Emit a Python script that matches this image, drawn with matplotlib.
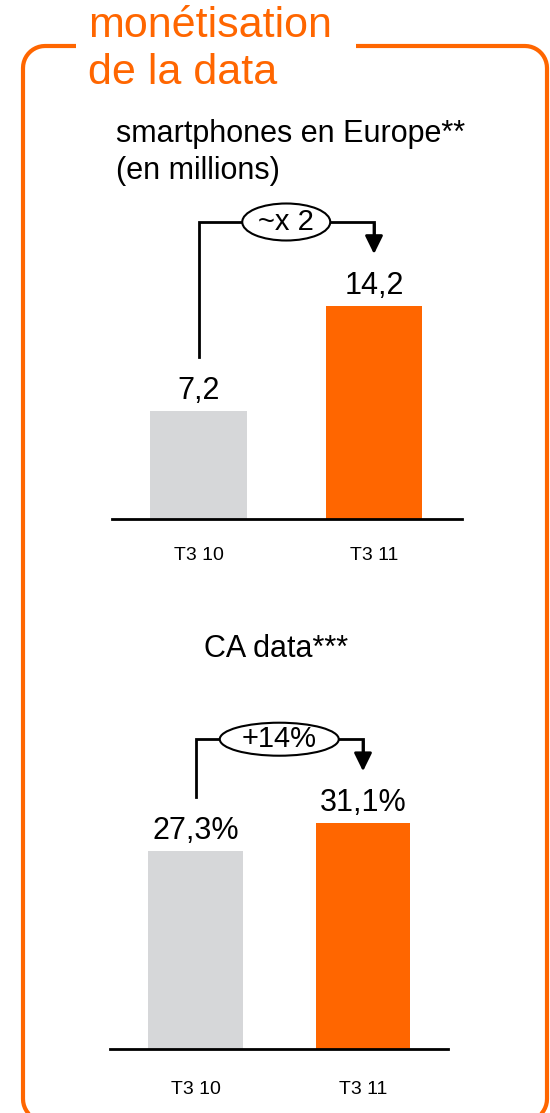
"""Two small before/after bar panels on data monetisation, inside an orange frame."""

from __future__ import annotations

import matplotlib

matplotlib.use("Agg")

import matplotlib.pyplot as plt
import numpy as np
from matplotlib.lines import Line2D
from matplotlib.patches import Ellipse

plt.rcParams["font.family"] = ["Liberation Sans", "DejaVu Sans"]

QUARTERS = ["T3 10", "T3 11"]
SMARTPHONES_MILLIONS = [7.2, 14.2]
SMARTPHONES_GROWTH = "~x 2"
DATA_REVENUE_SHARE = [27.3, 31.1]
DATA_REVENUE_GROWTH = "+14%"

TITLE_LINES = ["monétisation", "de la data"]
SMARTPHONES_TITLE = ["smartphones en Europe**", "(en millions)"]
DATA_REVENUE_TITLE = "CA data***"

ORANGE = "#FF6600"
GREY = "#D6D7D9"
FIG_W, FIG_H = 550, 1113


def fig_xy(x: float, y: float) -> tuple[float, float]:
    """Convert a pixel position (origin top-left) into figure fractions."""
    return x / FIG_W, 1.0 - y / FIG_H


def corner(cx, cy, r, a0, a1, n=12):
    """Quarter-circle points around (cx, cy) in pixel space (y down)."""
    t = np.radians(np.linspace(a0, a1, n))
    return list(zip(cx + r * np.cos(t), cy - r * np.sin(t)))


def draw_frame(fig) -> None:
    """Rounded orange frame with a gap in the top edge for the title."""
    left, right, top, bottom, r = 23, 547, 46, 1121, 22
    gap_left, gap_right = 76, 356
    pts = [(gap_left, top)]
    pts += corner(left + r, top + r, r, 90, 180)
    pts += corner(left + r, bottom - r, r, 180, 270)
    pts += corner(right - r, bottom - r, r, 270, 360)
    pts += corner(right - r, top + r, r, 0, 90)
    pts.append((gap_right, top))
    xs, ys = zip(*(fig_xy(x, y) for x, y in pts))
    fig.add_artist(Line2D(xs, ys, transform=fig.transFigure, color=ORANGE,
                          linewidth=3.0, solid_capstyle="butt", clip_on=False))


def bar_axes(fig, left, right, bottom, top, centers, px_per_unit):
    """Axes whose bar slots 0 and 1 land at the given pixel centres."""
    x0, y0 = fig_xy(left, bottom)
    ax = fig.add_axes([x0, y0, (right - left) / FIG_W, (bottom - top) / FIG_H])
    unit_px = centers[1] - centers[0]
    ax.set_xlim((left - centers[0]) / unit_px, (right - centers[0]) / unit_px)
    ax.set_ylim(0, (bottom - top) / px_per_unit)
    for side in ("top", "left", "right"):
        ax.spines[side].set_visible(False)
    ax.spines["bottom"].set_linewidth(2.0)
    ax.set_yticks([])
    ax.patch.set_alpha(0.0)
    return ax, unit_px


def plot_bars(ax, values, width, label_fmt, tick_pad):
    ax.bar([0, 1], values, width=width, color=[GREY, ORANGE], zorder=2)
    for i, v in enumerate(values):
        ax.annotate(label_fmt(v), (i, v), xytext=(0, 8.5),
                    textcoords="offset points", ha="center", va="baseline",
                    fontsize=22)
    ax.set_xticks([0, 1], QUARTERS)
    ax.tick_params(axis="x", length=0, pad=tick_pad, labelsize=14)


def draw_growth_bracket(ax, values, text, unit_px, px_per_unit, ell_w, ell_h):
    """Bracket from the first bar label to an arrow over the second bar."""
    start_y = values[0] + 54 / px_per_unit
    top_y = values[1] + 84 / px_per_unit
    tip_y = values[1] + 52 / px_per_unit
    half_w = ell_w / 2 / unit_px
    line_kw = dict(color="black", linewidth=2.0, clip_on=False,
                   solid_joinstyle="miter", zorder=2)
    ax.plot([0, 0, 0.5 - half_w], [start_y, top_y, top_y], **line_kw)
    ax.plot([0.5 + half_w, 1, 1], [top_y, top_y, tip_y + 10 / px_per_unit], **line_kw)
    ax.annotate("", xy=(1, tip_y), xytext=(1, top_y - 2 / px_per_unit),
                arrowprops=dict(arrowstyle="-|>,head_length=0.55,head_width=0.27",
                                color="black", lw=2.0, mutation_scale=20,
                                shrinkA=0, shrinkB=0), annotation_clip=False)
    ax.add_patch(Ellipse((0.5, top_y), width=ell_w / unit_px,
                         height=ell_h / px_per_unit, facecolor="white",
                         edgecolor="black", linewidth=1.5, zorder=3, clip_on=False))
    ax.text(0.5, top_y, text, ha="center", va="center", fontsize=21, zorder=4)


def main() -> None:
    fig = plt.figure(figsize=(FIG_W / 100, FIG_H / 100), dpi=100)
    draw_frame(fig)

    for text, baseline in zip(TITLE_LINES, (37, 84)):
        fig.text(*fig_xy(88, baseline), text, color=ORANGE, fontsize=31,
                 ha="left", va="baseline")
    for text, baseline in zip(SMARTPHONES_TITLE, (142, 179)):
        fig.text(*fig_xy(116, baseline), text, fontsize=22, ha="left", va="baseline")
    fig.text(*fig_xy(276, 657), DATA_REVENUE_TITLE, fontsize=22,
             ha="center", va="baseline")

    # smartphones: 15 px per million
    ax1, unit1 = bar_axes(fig, 112, 462, 519, 180, (198.5, 374), 15.0)
    plot_bars(ax1, SMARTPHONES_MILLIONS, 96.5 / unit1,
              lambda v: f"{v:.1f}".replace(".", ","), tick_pad=20)
    draw_growth_bracket(ax1, SMARTPHONES_MILLIONS, SMARTPHONES_GROWTH,
                        unit1, 15.0, 88, 37)

    # data revenue share: ~7.26 px per point
    ax2, unit2 = bar_axes(fig, 110, 448, 1049, 690, (195.5, 363), 7.26)
    plot_bars(ax2, DATA_REVENUE_SHARE, 94.5 / unit2,
              lambda v: f"{v:.1f}%".replace(".", ","), tick_pad=23)
    draw_growth_bracket(ax2, DATA_REVENUE_SHARE, DATA_REVENUE_GROWTH,
                        unit2, 7.26, 119, 33)

    fig.savefig("out.png", dpi=100)
    plt.close(fig)


if __name__ == "__main__":
    main()
